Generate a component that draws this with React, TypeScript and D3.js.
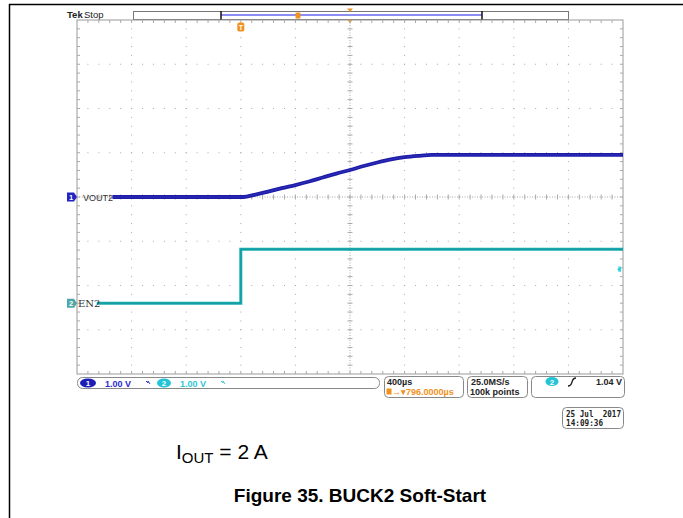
import React from 'react';
import * as d3 from 'd3';

// ---- data ----
const vout2TimeUs = [-940, 20, 100, 200, 300, 400, 500, 600, 700, 800, 900, 1000, 1100, 1200, 1300, 1400, 2800];
const vout2Volts = [0, 0, 0.05, 0.12, 0.2, 0.27, 0.35, 0.44, 0.53, 0.61, 0.7, 0.78, 0.85, 0.9, 0.93, 0.95, 0.95];
const en2TimeUs = [-1055, 0, 0, 2800];
const en2Volts = [0, 0, 1.22, 1.22];
const channelNames = ['VOUT2', 'EN2'];
const channelOffsetsDiv = [0, -2.4];
const channelScales = ['1.00 V', '1.00 V'];
const timeDomainUs = [-1200, 2800];
const voltDivDomain = [-4, 4];
const timebaseText = '400µs';
const triggerOffsetText = '→▾796.0000µs';
const sampleRateText = '25.0MS/s';
const recordText = '100k points';
const triggerLevelText = '1.04 V';
const triggerMarkerVolts = 0.77;
const dateLines = ['25 Jul  2017', '14:09:36'];
const captionText = 'Figure 35. BUCK2 Soft-Start';

const W = 683;
const H = 518;
const L = 77, R = 623, T = 20, B = 374;

export default function App() {
  const x = d3.scaleLinear().domain(timeDomainUs).range([L, R]);
  const y = d3.scaleLinear().domain(voltDivDomain).range([B, T]);
  const dx = (R - L) / 10;
  const dy = (B - T) / 8;

  const ch1 = vout2TimeUs.map((t, i) => [x(t), y(channelOffsetsDiv[0] + vout2Volts[i])] as [number, number]);
  const ch2 = en2TimeUs.map((t, i) => [x(t), y(channelOffsetsDiv[1] + en2Volts[i])] as [number, number]);
  const line1 = d3.line().curve(d3.curveMonotoneX)(ch1) || '';
  const line2 = d3.line()(ch2) || '';

  const gridColor = '#a9a9a9';
  const dots: JSX.Element[] = [];
  for (let i = 1; i < 10; i++) {
    if (i === 5) continue;
    const gx = L + i * dx;
    for (let k = 1; k < 40; k++) {
      dots.push(<rect key={`v${i}-${k}`} x={gx - 0.5} y={T + k * dy / 5 - 0.5} width={1} height={1} fill={gridColor} />);
    }
  }
  for (let j = 1; j < 8; j++) {
    if (j === 4) continue;
    const gy = T + j * dy;
    for (let k = 1; k < 50; k++) {
      dots.push(<rect key={`h${j}-${k}`} x={L + k * dx / 5 - 0.5} y={gy - 0.5} width={1} height={1} fill={gridColor} />);
    }
  }
  const ticks: JSX.Element[] = [];
  const cx = L + 5 * dx, cy = T + 4 * dy;
  for (let k = 1; k < 50; k++) {
    const tx = L + k * dx / 5;
    ticks.push(<line key={`ct${k}`} x1={tx} x2={tx} y1={cy - 2.5} y2={cy + 2.5} stroke={gridColor} strokeWidth={1} />);
    ticks.push(<line key={`tt${k}`} x1={tx} x2={tx} y1={T} y2={T + 3} stroke={gridColor} strokeWidth={1} />);
    ticks.push(<line key={`bt${k}`} x1={tx} x2={tx} y1={B - 3} y2={B} stroke={gridColor} strokeWidth={1} />);
  }
  for (let k = 1; k < 40; k++) {
    const ty = T + k * dy / 5;
    ticks.push(<line key={`cv${k}`} x1={cx - 2.5} x2={cx + 2.5} y1={ty} y2={ty} stroke={gridColor} strokeWidth={1} />);
    ticks.push(<line key={`lt${k}`} x1={L} x2={L + 3} y1={ty} y2={ty} stroke={gridColor} strokeWidth={1} />);
    ticks.push(<line key={`rt${k}`} x1={R - 3} x2={R} y1={ty} y2={ty} stroke={gridColor} strokeWidth={1} />);
  }

  const y1g = y(channelOffsetsDiv[0]);
  const y2g = y(channelOffsetsDiv[1]);
  const marker = (yc: number) => `M67,${yc - 4.5} h7 l3,4.5 l-3,4.5 h-7 z`;
  const tf = 'Liberation Sans, Arial, sans-serif';
  const orange = '#f0921e';
  const blue = '#1c1ca6';
  const cyan = '#1aacb2';
  const trigX = x(0);
  const trigMarkerY = y(channelOffsetsDiv[1] + triggerMarkerVolts);

  return (
    <svg width={W} height={H} style={{ position: 'absolute', left: 0, top: 0, background: '#fff' }}>
      {/* page frame */}
      <line x1={9} x2={W} y1={4.5} y2={4.5} stroke="#000" strokeWidth={1.5} />
      <line x1={9.5} x2={9.5} y1={4} y2={H} stroke="#000" strokeWidth={1.5} />

      {/* header */}
      <text x={67} y={18} fontFamily={tf} fontSize={9.5} fontWeight="bold" fill="#222">Tek</text>
      <text x={84} y={18} fontFamily={tf} fontSize={9.5} fill="#222">Stop</text>
      <rect x={133.5} y={11.5} width={435} height={8} fill="#fff" stroke="#777" strokeWidth={1} />
      <line x1={221} x2={482} y1={15} y2={15} stroke="#8c8cf2" strokeWidth={2} />
      <line x1={221} x2={221} y1={11} y2={20} stroke="#111" strokeWidth={1.5} />
      <line x1={482} x2={482} y1={11} y2={20} stroke="#111" strokeWidth={1.5} />
      <rect x={295.5} y={12.5} width={5} height={6} rx={1} fill={orange} />
      <path d={`M${cx - 3},8.5 h6 l-3,3.5 z`} fill={orange} />
      <path d={`M${cx - 3},19.5 h6 l-3,3.5 z`} fill={orange} />

      {/* graticule */}
      <rect x={L} y={T} width={R - L} height={B - T} fill="none" stroke="#9a9a9a" strokeWidth={1} />
      {dots}
      <line x1={cx} x2={cx} y1={T} y2={B} stroke={gridColor} strokeWidth={1} strokeDasharray="1,1.5" />
      <line x1={L} x2={R} y1={cy} y2={cy} stroke={gridColor} strokeWidth={1} strokeDasharray="1,1.5" />
      {ticks}

      {/* trigger position marker */}
      <rect x={trigX - 3.5} y={22.5} width={7} height={9} rx={2} fill={orange} />
      <text x={trigX} y={30} textAnchor="middle" fontFamily={tf} fontSize={7} fontWeight="bold" fill="#fff">T</text>

      {/* traces */}
      <path d={line2} fill="none" stroke={cyan} strokeWidth={3} />
      <path d={line2} fill="none" stroke="#0f8c90" strokeWidth={0.8} opacity={0.7} />
      <path d={line1} fill="none" stroke={blue} strokeWidth={3.8} />
      <path d={line1} fill="none" stroke="#4646d8" strokeWidth={0.8} opacity={0.6} />

      {/* channel markers */}
      <path d={marker(y1g)} fill="#2323c4" />
      <text x={71} y={y1g + 3} textAnchor="middle" fontFamily={tf} fontSize={7.5} fontWeight="bold" fill="#fff">1</text>
      <text x={83} y={y1g + 3.5} fontFamily={tf} fontSize={9} fill="#333">{channelNames[0]}</text>
      <path d={marker(y2g)} fill="#4fa8a8" />
      <text x={71} y={y2g + 3} textAnchor="middle" fontFamily={tf} fontSize={7.5} fontWeight="bold" fill="#fff">2</text>
      <text x={78} y={y2g + 4} fontFamily="DejaVu Serif, serif" fontSize={10} fill="#333">{channelNames[1]}</text>
      <path d={`M${R - 6},${trigMarkerY} l4,-3 v6 z`} fill="#30d0e0" />
      <line x1={R - 4} x2={R - 4} y1={trigMarkerY - 3} y2={trigMarkerY + 3} stroke="#30d0e0" strokeWidth={1} />

      {/* status bar */}
      <rect x={77.5} y={377.5} width={302} height={11} rx={5} fill="#fff" stroke="#888" strokeWidth={1} />
      <ellipse cx={88} cy={383} rx={8} ry={4.5} fill="#1d1db8" />
      <text x={88} y={386} textAnchor="middle" fontFamily={tf} fontSize={8} fontWeight="bold" fill="#fff">1</text>
      <text x={105} y={386.5} fontFamily={tf} fontSize={9} fontWeight="bold" fill="#2a2ad0">{channelScales[0]}</text>
      <path d="M146,381 l2,2 l0,-2 l2,3" fill="none" stroke="#3a3ad0" strokeWidth={1} />
      <ellipse cx={164} cy={383} rx={7} ry={4.5} fill="#22c4d6" />
      <text x={164} y={386} textAnchor="middle" fontFamily={tf} fontSize={8} fontWeight="bold" fill="#fff">2</text>
      <text x={180} y={386.5} fontFamily={tf} fontSize={9} fontWeight="bold" fill="#30c6d8">{channelScales[1]}</text>
      <path d="M221,381 l2,2 l0,-2 l2,3" fill="none" stroke="#40c8d8" strokeWidth={1} />

      <rect x={384.5} y={376.5} width={79} height={21} rx={4} fill="#fff" stroke="#888" strokeWidth={1} />
      <text x={387} y={385} fontFamily={tf} fontSize={9} fontWeight="bold" fill="#222">{timebaseText}</text>
      <rect x={386.5} y={388.5} width={5} height={6} fill={orange} />
      <text x={392} y={395} fontFamily={tf} fontSize={9} fontWeight="bold" fill={orange}>{triggerOffsetText}</text>

      <rect x={467.5} y={376.5} width={60} height={21} rx={4} fill="#fff" stroke="#888" strokeWidth={1} />
      <text x={471} y={385} fontFamily={tf} fontSize={9} fontWeight="bold" fill="#222">{sampleRateText}</text>
      <text x={470} y={395} fontFamily={tf} fontSize={9} fontWeight="bold" fill="#222">{recordText}</text>

      <rect x={531.5} y={376.5} width={93} height={21} rx={4} fill="#fff" stroke="#888" strokeWidth={1} />
      <ellipse cx={552} cy={381.5} rx={6.5} ry={4.5} fill="#22c4d6" />
      <text x={552} y={384.5} textAnchor="middle" fontFamily={tf} fontSize={8} fontWeight="bold" fill="#fff">2</text>
      <path d="M568,386 q3,0 4,-4 q1,-4 4,-4" fill="none" stroke="#222" strokeWidth={1.3} />
      <text x={622} y={385} textAnchor="end" fontFamily={tf} fontSize={9} fontWeight="bold" fill="#222">{triggerLevelText}</text>

      <rect x={562.5} y={407.5} width={61} height={21} rx={4} fill="#fff" stroke="#888" strokeWidth={1} />
      <text x={566} y={416.5} fontFamily="DejaVu Sans Mono, monospace" fontSize={8} fontWeight="bold" fill="#222" xmlSpace="preserve" textLength={55} lengthAdjust="spacingAndGlyphs">{dateLines[0]}</text>
      <text x={566} y={426} fontFamily="DejaVu Sans Mono, monospace" fontSize={8} fontWeight="bold" fill="#222" textLength={37} lengthAdjust="spacingAndGlyphs">{dateLines[1]}</text>

      {/* captions */}
      <text x={176} y={459} fontFamily={tf} fontSize={21} fill="#000">
        I<tspan fontSize={15} dy={4}>OUT</tspan><tspan dy={-4}> = 2 A</tspan>
      </text>
      <text x={360} y={502} textAnchor="middle" fontFamily={tf} fontSize={19} fontWeight="bold" fill="#000">{captionText}</text>
    </svg>
  );
}
